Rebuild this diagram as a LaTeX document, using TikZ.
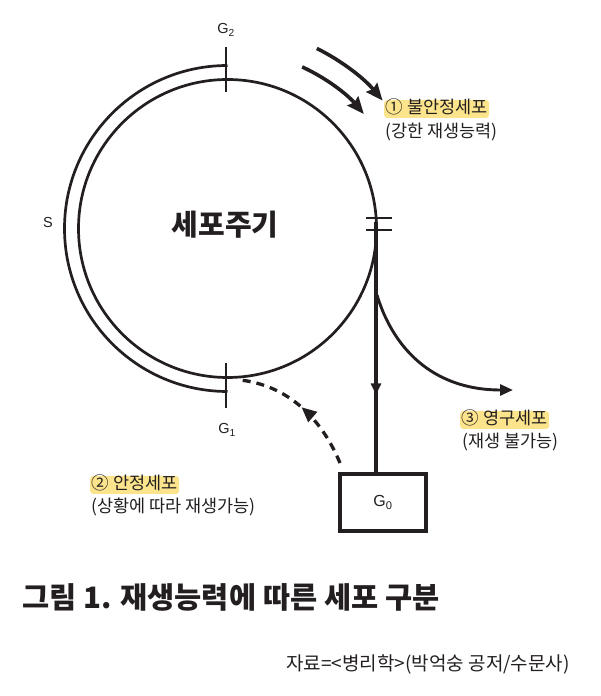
\documentclass[tikz,border=0pt]{standalone}
\usepackage{fontspec}
\setmainfont{Liberation Sans}
\newfontfamily\kr{Noto Sans CJK KR}
\usetikzlibrary{arrows.meta,decorations.markings}
\definecolor{ink}{RGB}{35,31,32}
\definecolor{hl}{RGB}{252,228,140}
\begin{document}
\begin{tikzpicture}[x=1pt,y=1pt,
  cyc/.style={draw=ink, line width=2.7pt},
  tickln/.style={draw=ink, line width=2.7pt},
  brkln/.style={draw=ink, line width=1.8pt},
  mainln/.style={draw=ink, line width=4.6pt},
  branchln/.style={draw=ink, line width=2.9pt, -{Triangle[length=13pt,width=11pt]}},
  bigarr/.style={draw=ink, line width=3.6pt, -{Stealth[length=17pt,width=14pt,inset=2pt]}},
  dashln/.style={draw=ink, line width=3.3pt, dash pattern=on 8pt off 6pt},
  lbl/.style={inner sep=0pt, font=\kr\fontsize{17.5}{19}\selectfont, text=ink, anchor=west},
  hllbl/.style={lbl, fill=hl, rounded corners=3pt, inner xsep=1.5pt, inner ysep=0.5pt, text height=13pt, text depth=4pt},
  glab/.style={inner sep=0pt, font=\fontsize{14.5}{16}\selectfont, text=ink},
  gbox/.style={draw=ink, line width=4pt, minimum width=86pt, minimum height=57pt, inner sep=0pt, font=\fontsize{16}{18}\selectfont, text=ink}
]
\useasboundingbox (0,0) rectangle (600,696);
\coordinate (c) at (227.5,467.5);
% cell cycle circle and S arc
\draw[cyc] (c) circle[radius=149];
\draw[cyc] (c) ++(90:163) arc[start angle=90, end angle=270, radius=163];
% G2 and G1 ticks
\coordinate (t2a) at (226,649); \coordinate (t2b) at (226,604);
\coordinate (t1a) at (226,333); \coordinate (t1b) at (226,288);
\draw[tickln] (t2a) -- (t2b);
\draw[tickln] (t1a) -- (t1b);
% break marks
\coordinate (b1a) at (366,478); \coordinate (b1b) at (392,478);
\coordinate (b2a) at (366,466); \coordinate (b2b) at (392,466);
\draw[brkln] (b1a) -- (b1b);
\draw[brkln] (b2a) -- (b2b);
% labels
\node[glab] (g2) at (226,666) {G\textsubscript{2}};
\node[glab] (g1) at (227,266) {G\textsubscript{1}};
\node[glab] (s) at (48,473) {S};
\node[inner sep=0pt, font=\kr\bfseries\fontsize{29}{32}\selectfont, text=ink] (title) at (225,471) {세포주기};
% G0 box
\node[gbox] (g0) at (383,193.5) {G\textsubscript{0}};
% main vertical line
\coordinate (vtop) at (376,474);
\draw[mainln, postaction={decorate}, decoration={markings, mark=at position 0.69 with {\arrow{Triangle[length=11pt,width=10pt]}}}] (vtop) -- (vtop |- g0.north);
% branch to permanent cells
\coordinate (bs) at (377,401);
\coordinate (be) at (513,306);
\draw[branchln] (bs) .. controls (392,351) and (430,306) .. (be);
% dashed return from G0 to G1
\coordinate (ds) at (340,233);
\coordinate (de) at (240,316);
\draw[dashln, postaction={decorate}, decoration={markings, mark=at position 0.5 with {\arrow{Triangle[length=15pt,width=13pt]}}}] (ds) .. controls (320,281) and (285,311) .. (de);
% big arrows at top
\draw[bigarr] (c) ++(63.6:201) arc[start angle=63.6, end angle=39.5, radius=201];
\draw[bigarr] (c) ++(65.2:178) arc[start angle=65.2, end angle=40, radius=178];
% text labels
\node[hllbl] (l1) at (384,587) {① 불안정세포};
\node[lbl] (l1b) at (385,564) {(강한 재생능력)};
\node[hllbl] (l3) at (460,276) {③ 영구세포};
\node[lbl] (l3b) at (462,254) {(재생 불가능)};
\node[hllbl] (l2) at (90,211) {② 안정세포};
\node[lbl] (l2b) at (91,189) {(상황에 따라 재생가능)};
% caption and source
\node[inner sep=0pt, anchor=west, font=\kr\bfseries\fontsize{29.5}{32}\selectfont, text=ink] (cap) at (22,99) {그림 1. 재생능력에 따른 세포 구분};
\node[inner sep=0pt, anchor=east, font=\kr\fontsize{19}{21}\selectfont, text=ink] (src) at (570,32) {자료=<병리학>(박억숭 공저/수문사)};
\end{tikzpicture}
\end{document}
